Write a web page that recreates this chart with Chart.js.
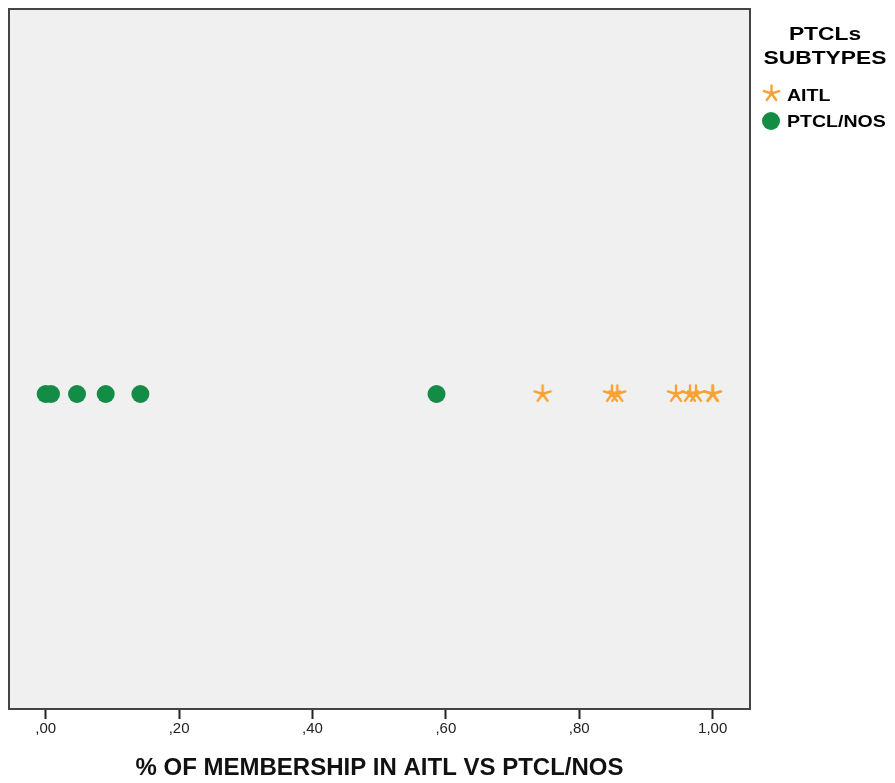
<!DOCTYPE html>
<html>
<head>
<meta charset="utf-8">
<script src="https://cdn.jsdelivr.net/npm/chart.js@4"></script>
<style>
  body { margin: 0; background: #fff; }
  #wrap { position: relative; width: 895px; height: 783px; }
  #legenda { position: absolute; left: 755px; top: 22px; width: 140px; font-family: "Liberation Sans", Arial, sans-serif; font-weight: bold; color: #000; }
  #legenda .tit { text-align: center; font-size: 19px; line-height: 24px; transform: scaleX(1.2); transform-origin: center; }
  #legenda .item { position: absolute; left: 32px; font-size: 17px; transform: scaleX(1.15); transform-origin: left; white-space: nowrap; }
</style>
</head>
<body>
<div id="wrap">
  <canvas id="grafico" width="895" height="783"></canvas>
  <div id="legenda">
    <div class="tit">PTCLs<br>SUBTYPES</div>
    <div class="item" style="top:64px">AITL</div>
    <div class="item" style="top:90px">PTCL/NOS</div>
  </div>
</div>
<script>
// dados
const aitlValores = [0.745, 0.849, 0.857, 0.945, 0.966, 0.975, 1.0, 1.0];
const ptclValores = [0.0, 0.008, 0.047, 0.09, 0.142, 0.586];
const xTicks = [0, 0.2, 0.4, 0.6, 0.8, 1.0];
const nivelY = 0;

const laranja = '#f7a333';
const verde = '#138c45';

// estrela de 5 braços (asterisco) como no SPSS
function criarEstrela(cor, tam) {
    const c = document.createElement('canvas');
    c.width = tam; c.height = tam;
    const g = c.getContext('2d');
    g.strokeStyle = cor;
    g.fillStyle = cor;
    g.lineWidth = 2.4;
    g.lineCap = 'round';
    const r = tam / 2 - 1.5;
    g.beginPath();
    for (let i = 0; i < 5; i++) {
        const a = -Math.PI / 2 + i * 2 * Math.PI / 5;
        g.moveTo(tam / 2, tam / 2);
        g.lineTo(tam / 2 + r * Math.cos(a), tam / 2 + r * Math.sin(a));
    }
    g.stroke();
    g.beginPath();
    g.arc(tam / 2, tam / 2, 2.5, 0, Math.PI * 2);
    g.fill();
    return c;
}

function criarMarcasLegenda() {
    const e = criarEstrela(laranja, 19);
    e.style.position = 'absolute';
    e.style.left = '762px';
    e.style.top = '84px';
    document.getElementById('wrap').appendChild(e);
    const d = document.createElement('canvas');
    d.width = 20; d.height = 20;
    const g = d.getContext('2d');
    g.fillStyle = verde;
    g.beginPath(); g.arc(10, 10, 9, 0, Math.PI * 2); g.fill();
    d.style.position = 'absolute';
    d.style.left = '761px';
    d.style.top = '111px';
    document.getElementById('wrap').appendChild(d);
}
criarMarcasLegenda();

const estrela = criarEstrela(laranja, 20);

const fundoArea = {
    id: 'fundoArea',
    beforeDraw(chart) {
        const { ctx, chartArea: a } = chart;
        ctx.save();
        ctx.fillStyle = '#f0f0f0';
        ctx.fillRect(a.left, a.top, a.width, a.height);
        ctx.restore();
    },
    afterDatasetsDraw(chart) {
        const { ctx, chartArea: a } = chart;
        ctx.save();
        ctx.strokeStyle = '#444';
        ctx.lineWidth = 2;
        ctx.strokeRect(a.left, a.top, a.width, a.height);
        ctx.restore();
    }
};

new Chart(document.getElementById('grafico'), {
    type: 'scatter',
    data: {
        datasets: [
            {
                label: 'AITL',
                data: aitlValores.map(v => ({ x: v, y: nivelY })),
                pointStyle: estrela,
                backgroundColor: laranja,
                borderColor: laranja
            },
            {
                label: 'PTCL/NOS',
                data: ptclValores.map(v => ({ x: v, y: nivelY })),
                pointStyle: 'circle',
                pointRadius: 9,
                backgroundColor: verde,
                borderColor: verde,
                borderWidth: 0
            }
        ]
    },
    options: {
        responsive: false,
        animation: false,
        layout: { padding: { left: 8, top: 5, right: 145, bottom: 0 } },
        plugins: {
            legend: { display: false },
            tooltip: { enabled: false }
        },
        scales: {
            x: {
                type: 'linear',
                min: -0.055,
                max: 1.056,
                afterBuildTicks: (s) => { s.ticks = xTicks.map(v => ({ value: v })); },
                afterFit: (s) => { s.height = 74; },
                grid: { drawOnChartArea: false, drawTicks: true, tickLength: 10, color: '#222', tickWidth: 2 },
                border: { display: false },
                ticks: {
                    padding: 1,
                    color: '#222',
                    font: { family: 'Liberation Sans', size: 15 },
                    callback: (v) => v.toFixed(2).replace('.', ',').replace(/^0/, '')
                },
                title: {
                    display: true,
                    text: '% OF MEMBERSHIP IN AITL VS PTCL/NOS',
                    color: '#111',
                    font: { family: 'Liberation Sans', size: 24, weight: 'bold' },
                    padding: { top: 2, bottom: 0 }
                }
            },
            y: {
                display: false,
                min: -0.9,
                max: 1.1
            }
        }
    },
    plugins: [fundoArea]
});
</script>
</body>
</html>
